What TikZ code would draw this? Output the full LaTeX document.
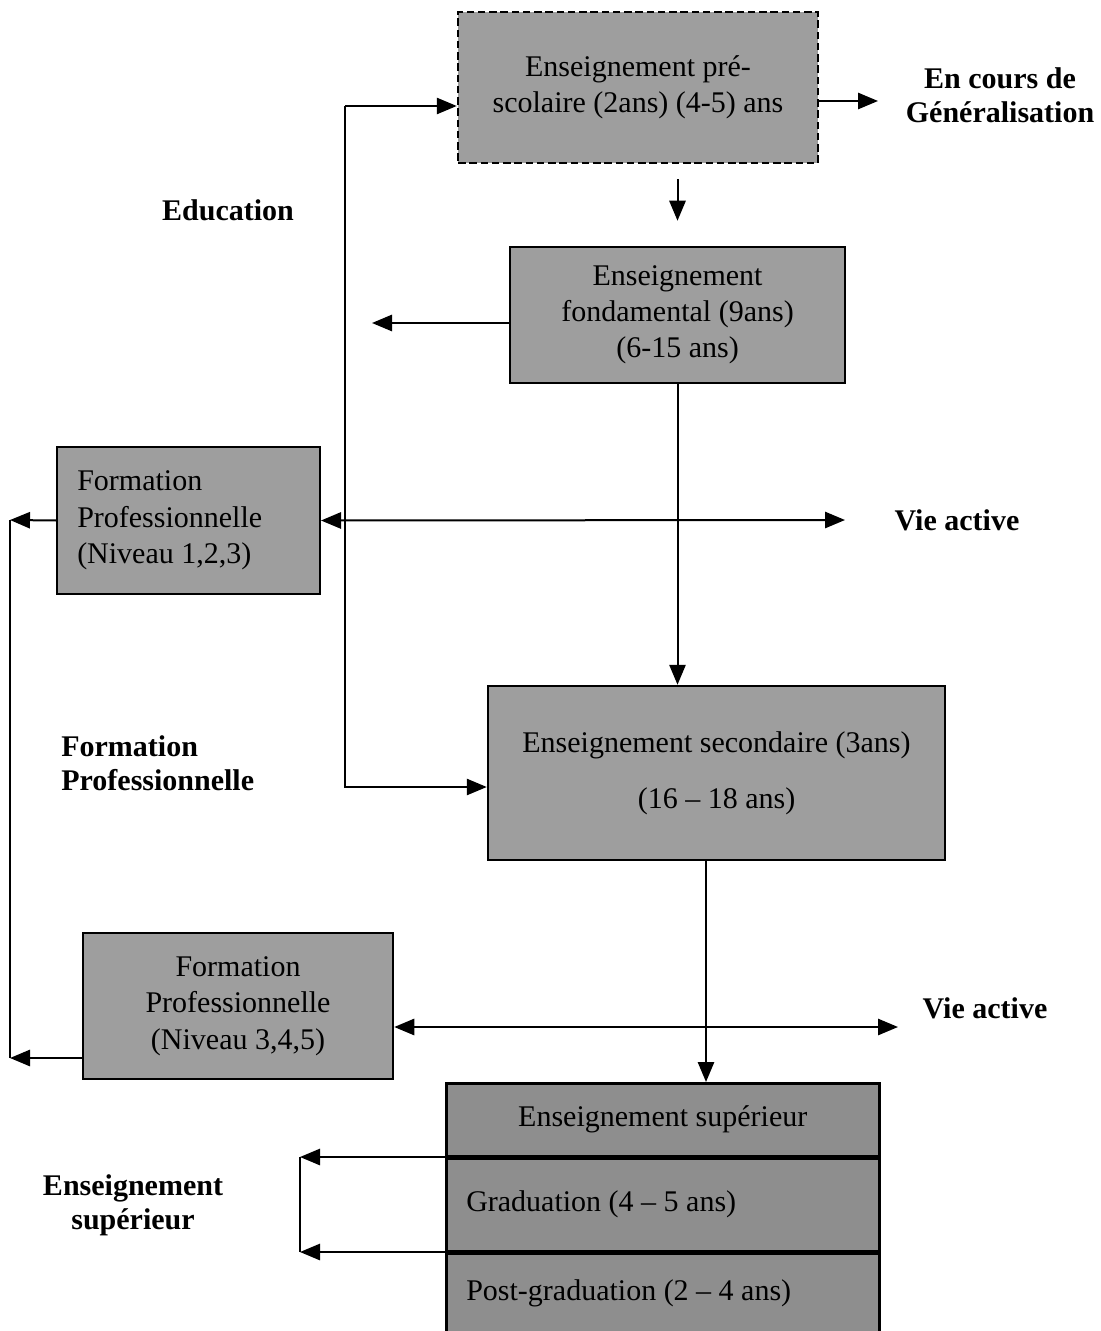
\documentclass[tikz,border=0pt]{standalone}
\usepackage{fontspec}
\setmainfont{Liberation Serif}
\usetikzlibrary{arrows.meta}
\definecolor{boxgray}{HTML}{9E9E9E}
\definecolor{boxdark}{HTML}{8E8E8E}

\begin{document}
\begin{tikzpicture}[x=0.4pt,y=-0.4pt,>={Triangle[length=8pt,width=6.5pt]},
  line width=0.8pt,
  bloc/.style={draw,line width=1pt,fill=boxgray,align=center,inner sep=0pt,font=\fontsize{12}{14.5}\selectfont},
  titre/.style={font=\bfseries\fontsize{12}{13.6}\selectfont,align=center}]
\useasboundingbox (0,0) rectangle (1100,1331);
% Blocs
\node[bloc,dashed,dash pattern=on 3pt off 1.5pt,minimum width=144pt,minimum height=60.4pt] (pre) at (638,87.5)
  {Enseignement pré-\\scolaire (2ans) (4-5) ans};
\node[bloc,minimum width=134pt,minimum height=54.4pt] (fond) at (677.5,315)
  {Enseignement\\fondamental (9ans)\\(6-15 ans)};
\node[bloc,align=flush left,text width=89pt,inner xsep=8pt,minimum height=58.8pt] (fpa) at (188.5,520.5)
  {Formation\\Professionnelle\\(Niveau 1,2,3)};
\node[bloc,minimum width=182.8pt,minimum height=69.6pt] (sec) at (716.5,773)
  {Enseignement secondaire (3ans)\\[8pt](16 -- 18 ans)};
\node[bloc,minimum width=124pt,minimum height=58.4pt] (fpb) at (238,1006)
  {Formation\\Professionnelle\\(Niveau 3,4,5)};
% Enseignement superieur
\node[bloc,fill=boxdark,anchor=north west,minimum width=173.2pt,minimum height=29pt] (sup) at (445,1082)
  {Enseignement supérieur};
\node[bloc,fill=boxdark,anchor=north west,align=flush left,text width=157.2pt,inner xsep=8pt,minimum height=37pt] (grad) at (sup.south west)
  {Graduation (4 -- 5 ans)};
\node[bloc,fill=boxdark,anchor=north west,align=flush left,text width=157.2pt,inner xsep=8pt,minimum height=32pt] (pgrad) at (grad.south west)
  {Post-graduation (2 -- 4 ans)};
% Etiquettes
\node[titre] (gen) at (1000,95) {En cours de\\Généralisation};
\node[titre] (edu) at (228,210) {Education};
\node[titre] (via) at (957,520) {Vie active};
\node[titre,align=left,anchor=west] (form) at (52,763) {Formation\\Professionnelle};
\node[titre] (vib) at (985,1008) {Vie active};
\node[titre] (esup) at (133,1205) {Enseignement\\supérieur};
% Points de renvoi
\coordinate (e1) at (345,106);
\coordinate (e2) at (345,787);
\coordinate (f1) at (372,323);
\coordinate (g1) at (878,101);
\coordinate (p1) at (10,520);
\coordinate (p2) at (10,1058);
\coordinate (a1) at (845,520);
\coordinate (a2) at (898,1027);
\coordinate (d1) at (706,860);
% Fleches
\draw[->] (e1) -- (e1 -| pre.west);
\draw[->] (e1) |- (e2 -| sec.west);
\draw[->] (pre.east |- g1) -- (g1);
\draw[->,shorten <=6pt,shorten >=10pt] (fond.north |- pre.south) -- (fond.north);
\draw[->] (fond.west |- f1) -- (f1);
\draw[->] (fond.south) -- (fond.south |- sec.north);
\draw[->] (fpa.west) -- (p1);
\draw (p1) -- (p2);
\draw[->] (fpb.west |- p2) -- (p2);
\draw[<->] (fpa.east) -- (a1);
\draw[<->] (fpb.east |- a2) -- (a2);
\draw[->] (d1) -- (d1 |- sup.north);
\draw[->] (grad.north west) -- ++(-145,0) coordinate (s1);
\draw[->] (grad.south west) -- ++(-145,0) coordinate (s2);
\draw (s1) -- (s2);
\end{tikzpicture}
\end{document}
